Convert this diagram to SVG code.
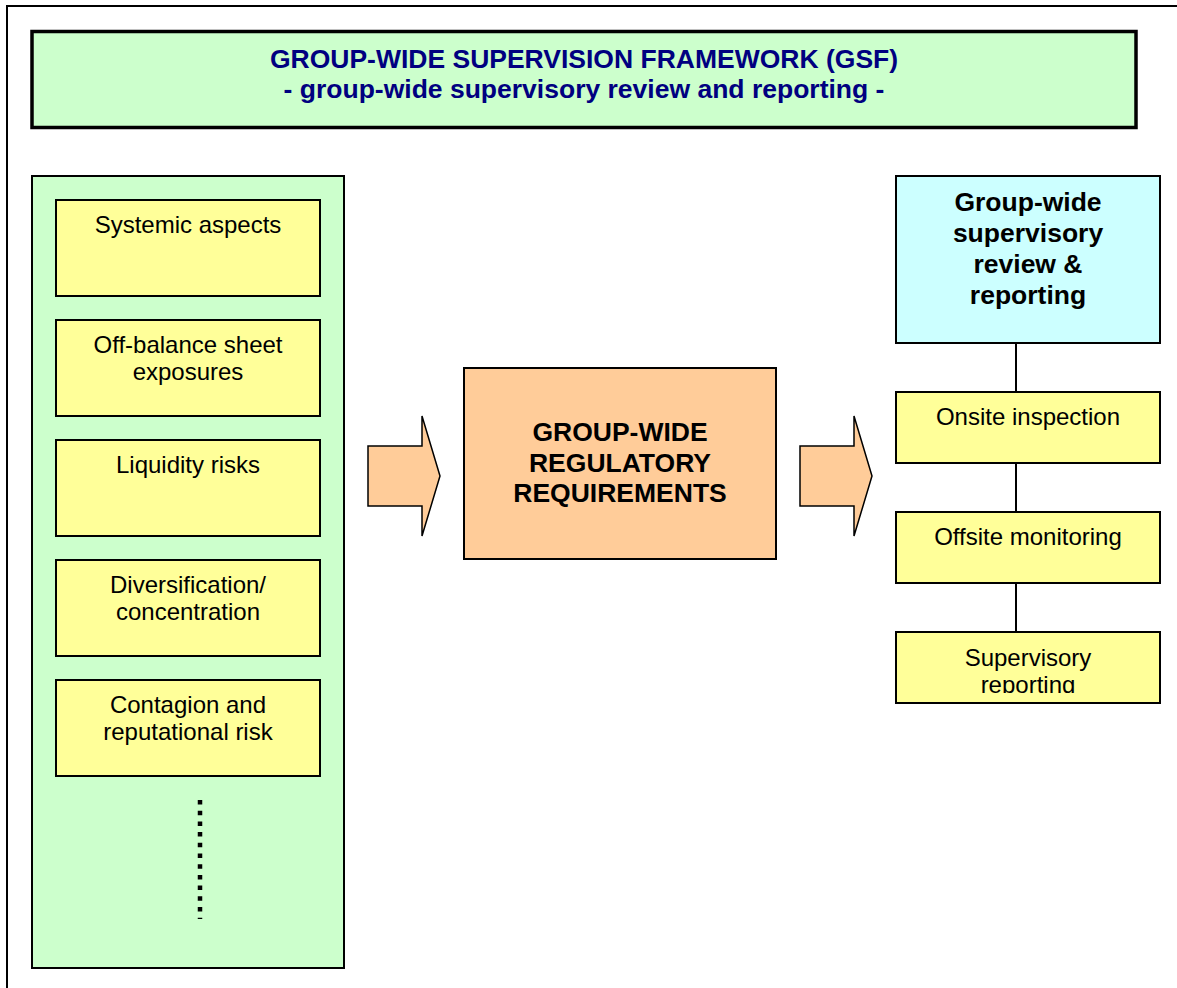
<svg xmlns="http://www.w3.org/2000/svg" width="1177" height="988" viewBox="0 0 1177 988">
<style>
.t{font-family:"Liberation Sans",Arial,sans-serif;text-anchor:middle}
.y{fill:#FFFF99;stroke:#000;stroke-width:2}
.n{font-size:24px;fill:#000}
.b{font-size:26.5px;font-weight:bold;fill:#000}
.arrow{fill:#FFCC99;stroke:#000;stroke-width:1.5}
.conn{stroke:#000;stroke-width:2}
</style>
<defs>
<clipPath id="clipSR"><rect x="896" y="632" width="264" height="61"/></clipPath>
</defs>
<rect x="7" y="6" width="1200" height="1000" fill="#fff" stroke="#000" stroke-width="2"/>
<g id="title">
<rect x="32" y="31.5" width="1104" height="96" fill="#CCFFCC" stroke="#000" stroke-width="3.5"/>
<text class="t" x="584" y="68" font-size="26.5" font-weight="bold" fill="#000080">GROUP-WIDE SUPERVISION FRAMEWORK (GSF)</text>
<text class="t" x="584" y="98" font-size="26.5" font-weight="bold" fill="#000080">- group-wide supervisory review and reporting -</text>
</g>
<g id="left-panel">
<rect x="32" y="176" width="312" height="792" fill="#CCFFCC" stroke="#000" stroke-width="2"/>
<line x1="200" y1="800" x2="200" y2="919" stroke="#000" stroke-width="4.5" stroke-dasharray="4.5 6.2"/>
</g>
<g id="systemic">
<rect class="y" x="56" y="200" width="264" height="96"/>
<text class="t n" x="188" y="233">Systemic aspects</text>
</g>
<g id="offbalance">
<rect class="y" x="56" y="320" width="264" height="96"/>
<text class="t n" x="188" y="353">Off-balance sheet</text>
<text class="t n" x="188" y="380">exposures</text>
</g>
<g id="liquidity">
<rect class="y" x="56" y="440" width="264" height="96"/>
<text class="t n" x="188" y="473">Liquidity risks</text>
</g>
<g id="diversification">
<rect class="y" x="56" y="560" width="264" height="96"/>
<text class="t n" x="188" y="593">Diversification/</text>
<text class="t n" x="188" y="620">concentration</text>
</g>
<g id="contagion">
<rect class="y" x="56" y="680" width="264" height="96"/>
<text class="t n" x="188" y="713">Contagion and</text>
<text class="t n" x="188" y="740">reputational risk</text>
</g>
<g id="arrow-left">
<polygon class="arrow" points="368,446 422,446 422,416 440,476 422,536 422,506 368,506"/>
</g>
<g id="requirements">
<rect x="464" y="368" width="312" height="191" fill="#FFCC99" stroke="#000" stroke-width="2"/>
<text class="t b" x="620" y="441">GROUP-WIDE</text>
<text class="t b" x="620" y="472">REGULATORY</text>
<text class="t b" x="620" y="502">REQUIREMENTS</text>
</g>
<g id="arrow-right">
<polygon class="arrow" points="800,446 854,446 854,416 872,476 854,536 854,506 800,506"/>
</g>
<g id="connectors">
<line class="conn" x1="1016" y1="343" x2="1016" y2="392"/>
<line class="conn" x1="1016" y1="463" x2="1016" y2="512"/>
<line class="conn" x1="1016" y1="583" x2="1016" y2="632"/>
</g>
<g id="review">
<rect x="896" y="176" width="264" height="167" fill="#CCFFFF" stroke="#000" stroke-width="2"/>
<text class="t b" x="1028" y="211">Group-wide</text>
<text class="t b" x="1028" y="242">supervisory</text>
<text class="t b" x="1028" y="273">review &amp;</text>
<text class="t b" x="1028" y="304">reporting</text>
</g>
<g id="onsite">
<rect class="y" x="896" y="392" width="264" height="71"/>
<text class="t n" x="1028" y="425">Onsite inspection</text>
</g>
<g id="offsite">
<rect class="y" x="896" y="512" width="264" height="71"/>
<text class="t n" x="1028" y="545">Offsite monitoring</text>
</g>
<g id="supreporting">
<rect class="y" x="896" y="632" width="264" height="71"/>
<g clip-path="url(#clipSR)">
<text class="t n" x="1028" y="666">Supervisory</text>
<text class="t n" x="1028" y="693">reporting</text>
</g>
</g>
</svg>
